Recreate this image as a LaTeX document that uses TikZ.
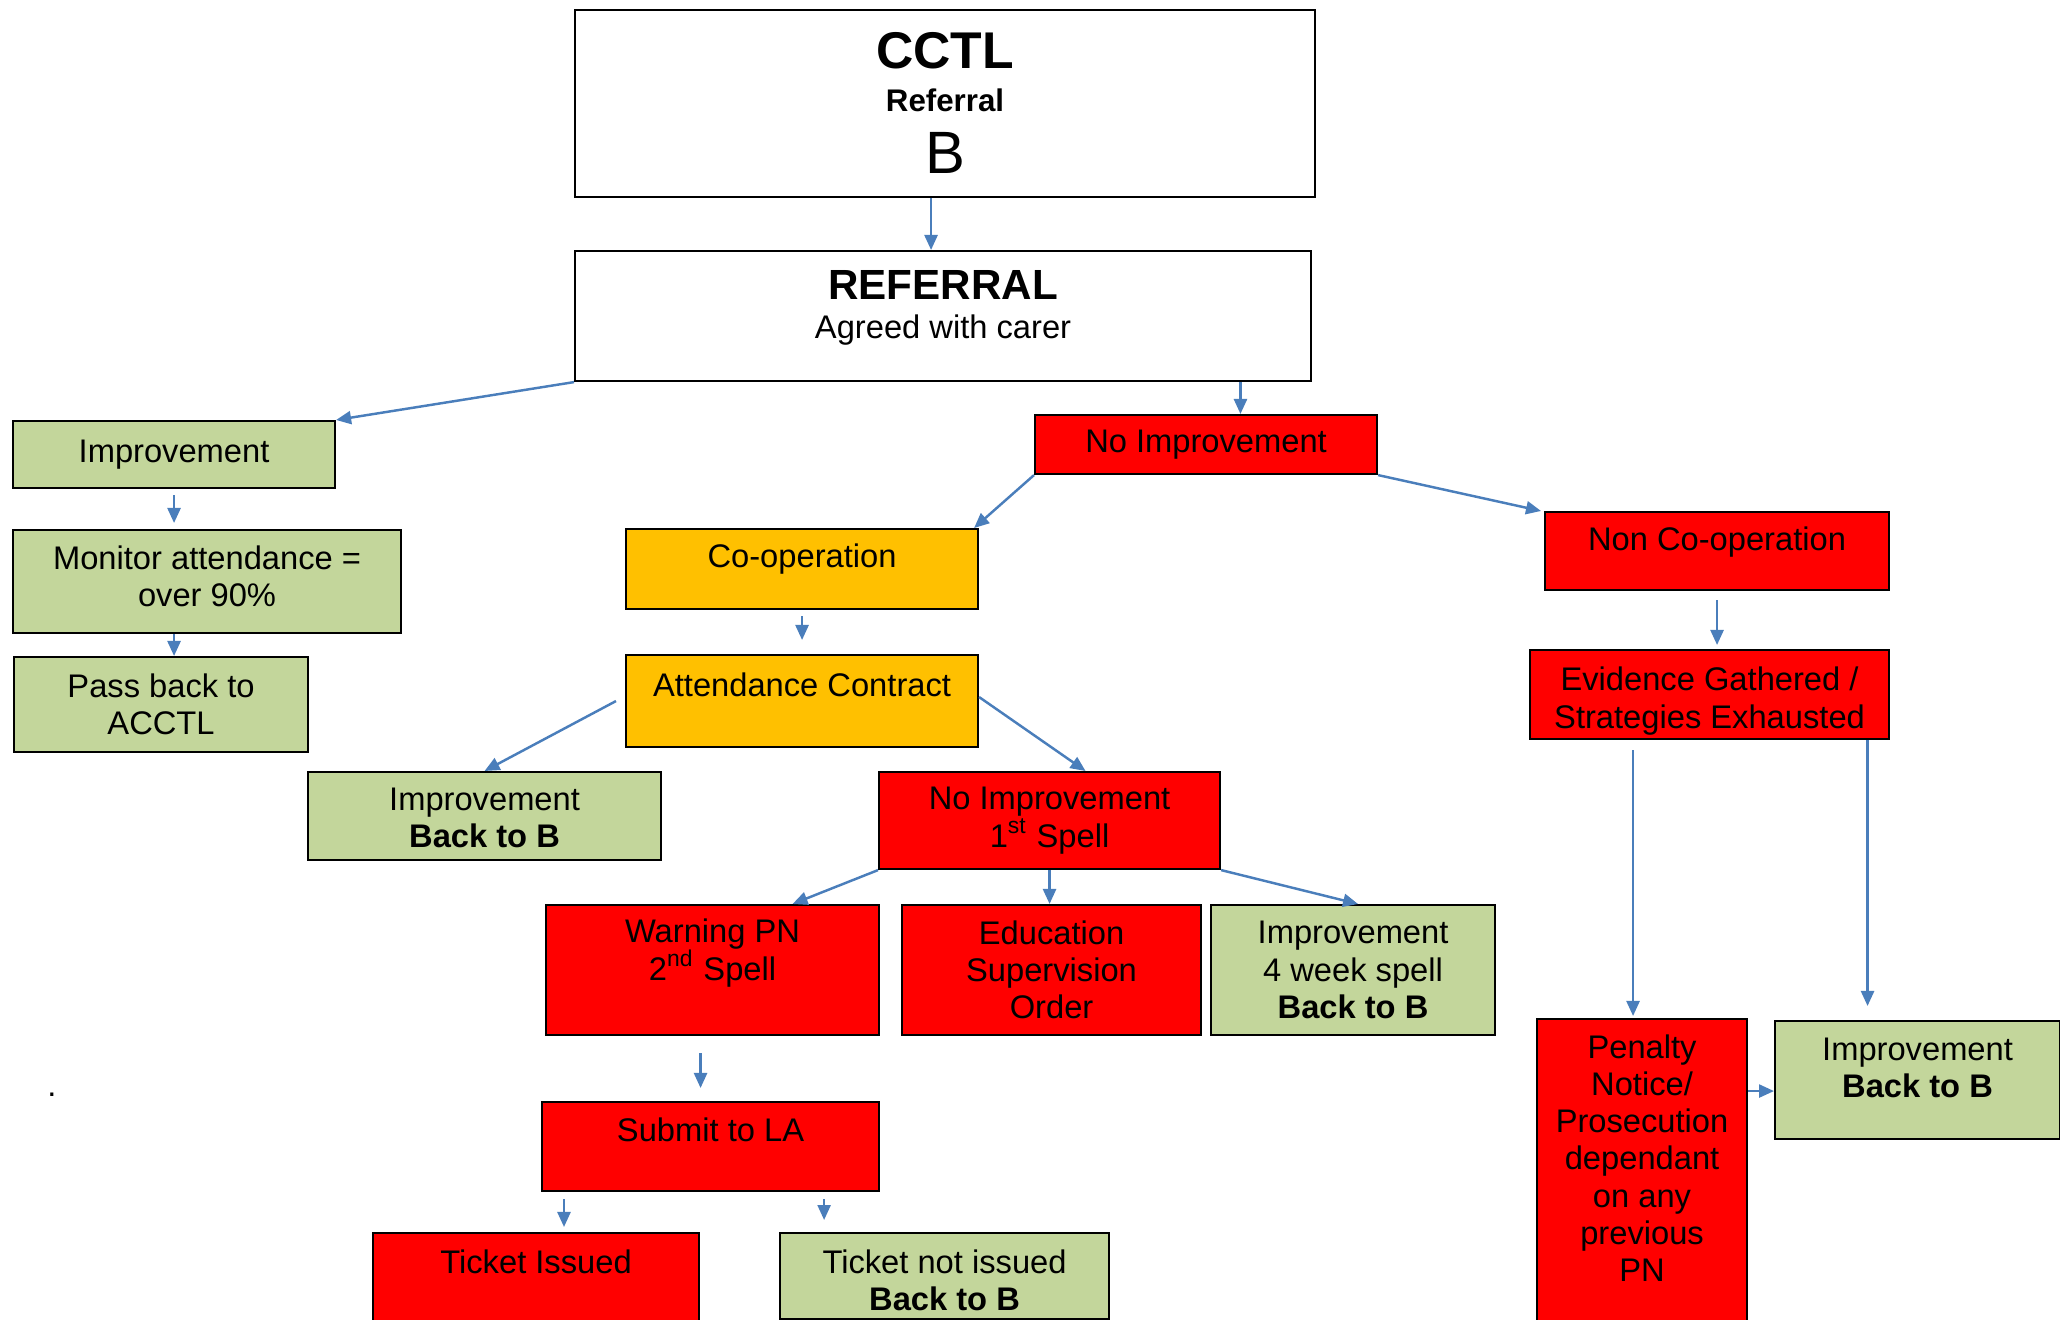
\documentclass[tikz,border=0pt]{standalone}
\usepackage{fontspec}
\setmainfont{Liberation Sans}
\usetikzlibrary{arrows.meta,calc}
\definecolor{boxgreen}{HTML}{C3D69B}
\definecolor{boxamber}{HTML}{FFC000}
\definecolor{boxred}{HTML}{FF0000}
\definecolor{flowblue}{HTML}{4A7EBB}

\begin{document}
\begin{tikzpicture}[
    font=\fontsize{9.3}{10.6}\selectfont,
    every label/.style={align=center},
    box/.style={draw=black,line width=0.6pt,align=center,inner sep=0pt,anchor=north west},
    whitebox/.style={box,fill=white},
    greenbox/.style={box,fill=boxgreen},
    amberbox/.style={box,fill=boxamber},
    redbox/.style={box,fill=boxred},
    boxsize/.style 2 args={minimum width=#1cm,minimum height=#2cm},
    flow/.style={draw=flowblue,line width=0.7pt,-{Triangle[length=0.15cm,width=0.13cm]}}
]
    \useasboundingbox (0,0) rectangle (20.6,-13.2);
    \clip (0,0) rectangle (20.6,-13.2);

    \node[whitebox,boxsize={7.40}{1.87},
        label={[font=\fontsize{14.7}{16}\selectfont\bfseries,yshift=0.525cm]center:CCTL},
        label={[font=\fontsize{8.9}{10}\selectfont\bfseries,yshift=0.035cm]center:Referral},
        label={[font=\fontsize{17}{19}\selectfont,yshift=-0.495cm]center:B}] (cctl) at (5.74,-0.09) {};
    \node[whitebox,boxsize={7.36}{1.30},
        label={[font=\fontsize{12}{14}\selectfont\bfseries,yshift=0.31cm]center:REFERRAL},
        label={[yshift=-0.14cm]center:Agreed with carer}] (referral) at (5.74,-2.50) {};

    \node[greenbox,boxsize={3.22}{0.67}] (imp) at (0.12,-4.20) {Improvement};
    \node[greenbox,boxsize={3.88}{1.03},label={[yshift=0.05cm]center:Monitor attendance =\\over 90\%}] (monitor) at (0.12,-5.29) {};
    \node[greenbox,boxsize={2.94}{0.95}] (passback) at (0.13,-6.56) {Pass back to\\ACCTL};

    \node[redbox,boxsize={3.42}{0.59}] (noimp) at (10.34,-4.14) {No Improvement};
    \node[amberbox,boxsize={3.52}{0.80},label={[yshift=0.10cm]center:Co-operation}] (coop) at (6.25,-5.28) {};
    \node[amberbox,boxsize={3.52}{0.92},label={[yshift=0.16cm]center:Attendance Contract}] (contract) at (6.25,-6.54) {};
    \node[greenbox,boxsize={3.53}{0.88},label={[yshift=-0.02cm]center:Improvement\\\textbf{Back to B}}] (impb) at (3.07,-7.71) {};
    \node[redbox,boxsize={3.41}{0.97}] (noimp1) at (8.78,-7.71) {No Improvement\\1\textsuperscript{st} Spell};
    \node[redbox,boxsize={3.33}{1.30},label={[yshift=0.17cm]center:Warning PN\\2\textsuperscript{nd} Spell}] (warning) at (5.45,-9.04) {};
    \node[redbox,boxsize={2.99}{1.30}] (eso) at (9.01,-9.04) {Education\\Supervision\\Order};
    \node[greenbox,boxsize={2.84}{1.30}] (imp4) at (12.10,-9.04) {Improvement\\4 week spell\\\textbf{Back to B}};
    \node[redbox,boxsize={3.37}{0.89},label={[yshift=0.17cm]center:Submit to LA}] (submit) at (5.41,-11.01) {};
    \node[redbox,boxsize={3.26}{1.10},label={[yshift=0.26cm]center:Ticket Issued}] (ticket) at (3.72,-12.32) {};
    \node[greenbox,boxsize={3.29}{0.86},label={[yshift=-0.04cm]center:Ticket not issued\\\textbf{Back to B}}] (notissued) at (7.79,-12.32) {};

    \node[redbox,boxsize={3.44}{0.78},label={[yshift=0.09cm]center:Non Co-operation}] (noncoop) at (15.44,-5.11) {};
    \node[redbox,boxsize={3.59}{0.89},label={[yshift=-0.065cm]center:Evidence Gathered /\\Strategies Exhausted}] (evidence) at (15.29,-6.49) {};
    \node[redbox,boxsize={2.10}{3.30},label={[yshift=0.26cm]center:Penalty\\Notice/\\Prosecution\\dependant\\on any\\previous\\PN}] (penalty) at (15.36,-10.18) {};
    \node[greenbox,boxsize={2.85}{1.18},label={[yshift=0.125cm]center:Improvement\\\textbf{Back to B}}] (impr) at (17.74,-10.20) {};

    \node[anchor=base] (dot) at (0.52,-10.97) {.};

    \coordinate (a1) at ($(cctl.south)+(-0.14,0)$);
    \draw[flow] (a1) -- (a1 |- referral.north);
    \draw[flow] (referral.south west) -- (imp.north east);
    \draw[flow,shorten <=0.06cm,shorten >=0.06cm] (imp.south) -- (imp.south |- monitor.north);
    \draw[flow] (imp.south |- monitor.south) -- (imp.south |- passback.north);
    \coordinate (a5) at ($(noimp.north west)!0.6!(noimp.north east)$);
    \draw[flow] (a5 |- referral.south) -- (a5);
    \draw[flow] (noimp.south west) -- ([xshift=-0.05cm]coop.north east);
    \draw[flow,shorten <=0.06cm,shorten >=0.14cm] (coop.south) -- (coop.south |- contract.north);
    \draw[flow] ([xshift=-0.09cm]contract.west) -- (impb.north);
    \draw[flow] ([yshift=0.04cm]contract.east) -- ([xshift=0.36cm]noimp1.north);
    \draw[flow] (noimp1.south west) -- ([xshift=0.80cm]warning.north);
    \draw[flow] (noimp1.south) -- (noimp1.south |- eso.north);
    \draw[flow] (noimp1.south east) -- ([xshift=0.05cm]imp4.north);
    \coordinate (a13) at ($(warning.south)+(-0.12,-0.17)$);
    \draw[flow,shorten >=0.13cm] (a13) -- (a13 |- submit.north);
    \coordinate (a14) at ($(submit.south west)+(0.23,-0.07)$);
    \draw[flow,shorten >=0.05cm] (a14) -- (a14 |- ticket.north);
    \coordinate (a15) at ($(submit.south east)+(-0.56,-0.07)$);
    \draw[flow,shorten >=0.12cm] (a15) -- (a15 |- notissued.north);
    \draw[flow] (noimp.south east) -- ([xshift=-0.03cm]noncoop.north west);
    \draw[flow,shorten <=0.09cm,shorten >=0.04cm] (noncoop.south) -- (noncoop.south |- evidence.north);
    \coordinate (a18) at ($(penalty.north)+(-0.09,0)$);
    \draw[flow,shorten <=0.10cm,shorten >=0.02cm] (a18 |- evidence.south) -- (a18);
    \coordinate (a19) at ($(impr.north)+(-0.50,0)$);
    \draw[flow,shorten >=0.14cm] (a19 |- evidence.south) -- (a19);
    \coordinate (a20) at ($(impr.west)+(0,-0.11)$);
    \draw[flow] (a20 -| penalty.east) -- (a20);
\end{tikzpicture}
\end{document}
